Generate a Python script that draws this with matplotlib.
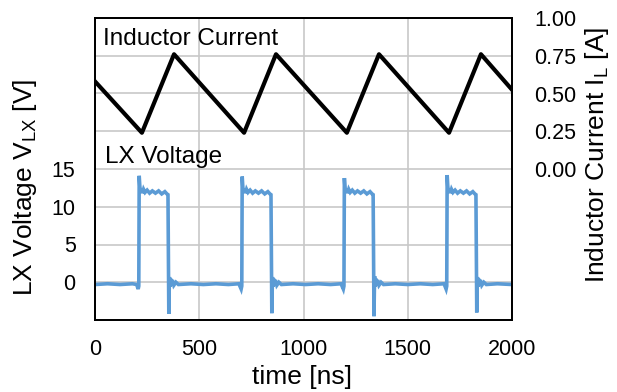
import matplotlib

matplotlib.use("Agg")
import matplotlib.pyplot as plt  # noqa: E402
from matplotlib.ticker import FuncFormatter  # noqa: E402

plt.rcParams["font.family"] = ["Liberation Sans", "DejaVu Sans"]
plt.rcParams["mathtext.fontset"] = "custom"
plt.rcParams["mathtext.rm"] = "Liberation Sans"
plt.rcParams["mathtext.it"] = "Liberation Sans:italic"

# ── data read off the scope capture ─────────────────────────────────────────
# inductor current (triangle vertices)
cur_t = [0, 225, 379, 715, 868, 1208, 1362, 1698, 1851, 2000]
cur_a = [0.58, 0.24, 0.76, 0.24, 0.76, 0.24, 0.76, 0.24, 0.76, 0.525]

# LX node voltage (hand-read trace with edges, overshoot and ringing)
lx_t = [
    0, 60, 120, 180, 200, 207,
    210, 212, 215, 219, 223, 228, 233, 240, 250, 262, 275, 290, 305, 320, 335, 345, 350,
    354, 357, 359, 362, 366, 371, 378, 388, 400, 460, 520, 580, 640, 690, 701,
    704, 706, 709, 713, 717, 722, 727, 734, 744, 756, 769, 784, 799, 814, 829, 839, 844,
    848, 851, 853, 856, 860, 865, 872, 882, 894, 950, 1010, 1070, 1130, 1180, 1191,
    1194, 1196, 1199, 1203, 1207, 1212, 1217, 1224, 1234, 1246, 1259, 1274, 1289, 1304, 1319, 1329, 1334,
    1338, 1341, 1343, 1346, 1350, 1355, 1362, 1372, 1384, 1440, 1500, 1560, 1620, 1674, 1684,
    1687, 1689, 1692, 1696, 1700, 1705, 1710, 1717, 1727, 1739, 1752, 1767, 1782, 1797, 1812, 1822, 1827,
    1831, 1834, 1836, 1839, 1843, 1848, 1855, 1865, 1877, 1930, 2000,
]
lx_v = [
    -0.3, -0.2, -0.3, -0.2, -0.3, -0.9,
    -0.5, 14.1, 12.7, 11.9, 12.4, 11.8, 12.3, 11.9, 12.2, 11.8, 12.1, 11.8, 12.1, 11.7, 12.0, 11.7, 11.6,
    -4.2, 0.7, -0.6, 0.5, -0.4, 0.3, -0.4, 0.0, -0.3, -0.2, -0.3, -0.2, -0.3, -0.2, -0.9,
    -0.5, 14.0, 12.6, 11.9, 12.4, 11.8, 12.3, 11.9, 12.2, 11.8, 12.1, 11.8, 12.1, 11.7, 12.0, 11.7, 11.6,
    -4.1, 0.7, -0.6, 0.5, -0.4, 0.3, -0.4, 0.0, -0.3, -0.2, -0.3, -0.2, -0.3, -0.2, -0.9,
    -0.5, 13.8, 12.5, 11.9, 12.4, 11.8, 12.3, 11.9, 12.2, 11.8, 12.1, 11.8, 12.1, 11.7, 12.0, 11.7, 11.6,
    -4.5, 0.8, -0.6, 0.5, -0.4, 0.3, -0.4, 0.0, -0.3, -0.2, -0.3, -0.2, -0.3, -0.2, -0.9,
    -0.5, 14.2, 12.7, 11.9, 12.4, 11.8, 12.3, 11.9, 12.2, 11.8, 12.1, 11.8, 12.1, 11.7, 12.0, 11.7, 11.6,
    -4.0, 0.7, -0.6, 0.5, -0.4, 0.3, -0.4, 0.0, -0.3, -0.2, -0.3,
]

volt_ticks = [0, 5, 10, 15]
cur_ticks = [0.0, 0.25, 0.5, 0.75, 1.0]
time_ticks = [0, 500, 1000, 1500, 2000]

BLUE = "#5B9BD5"
GRID = "#c8c8c8"
FS_TICK = 15.5
FS_LABEL = 19
FS_NOTE = 17.5

fig = plt.figure(figsize=(6.17, 3.92), dpi=100)
ax = fig.add_axes([95 / 617, 1 - 320 / 392, 417 / 617, 302 / 392])
ax2 = ax.twinx()

# left axis: grid every 5 V over the whole box, labels only 0..15
ax.set_xlim(0, 2000)
ax.set_ylim(-5, 35)
ax.set_yticks(range(-5, 36, 5))
ax.yaxis.set_major_formatter(
    FuncFormatter(lambda v, p: f"{v:.0f}" if volt_ticks[0] <= v <= volt_ticks[-1] else "")
)
ax.set_xticks(time_ticks)
ax.grid(True, color=GRID, lw=1.2)
ax.set_axisbelow(True)
ax.plot(lx_t, lx_v, color=BLUE, lw=2.6, solid_joinstyle="miter")

ax2.set_ylim(-1.0, 1.0)
ax2.set_yticks(cur_ticks)
ax2.yaxis.set_major_formatter(FuncFormatter(lambda v, p: f"{v:.2f}"))
ax2.plot(cur_t, cur_a, color="black", lw=3.0)

for a in (ax, ax2):
    a.tick_params(length=0, labelsize=FS_TICK)
    for s in a.spines.values():
        s.set_linewidth(1.3)
        s.set_color("black")
ax.tick_params(axis="y", pad=14)
ax.tick_params(axis="x", pad=14)
ax2.tick_params(axis="y", pad=16)

ax.set_xlabel("time [ns]", fontsize=FS_LABEL)
ax.xaxis.set_label_coords(0.497, -0.19)
ax.xaxis.label.set_va("center")
ax.set_ylabel(r"LX Voltage V$_{\mathrm{LX}}$ [V]", fontsize=FS_LABEL)
ax.yaxis.set_label_coords(-0.168, 0.44)
ax.yaxis.label.set_va("center")
ax2.set_ylabel(r"Inductor Current I$_{\mathrm{L}}$ [A]", fontsize=FS_LABEL, rotation=90)
ax2.yaxis.set_label_coords(1.204, 0.546)
ax2.yaxis.label.set_va("center")

ax2.text(38, 0.86, "Inductor Current", fontsize=FS_NOTE, va="center", ha="left")
ax.text(48, 16.6, "LX Voltage", fontsize=FS_NOTE, va="center", ha="left")

fig.savefig("out.png", dpi=100)
